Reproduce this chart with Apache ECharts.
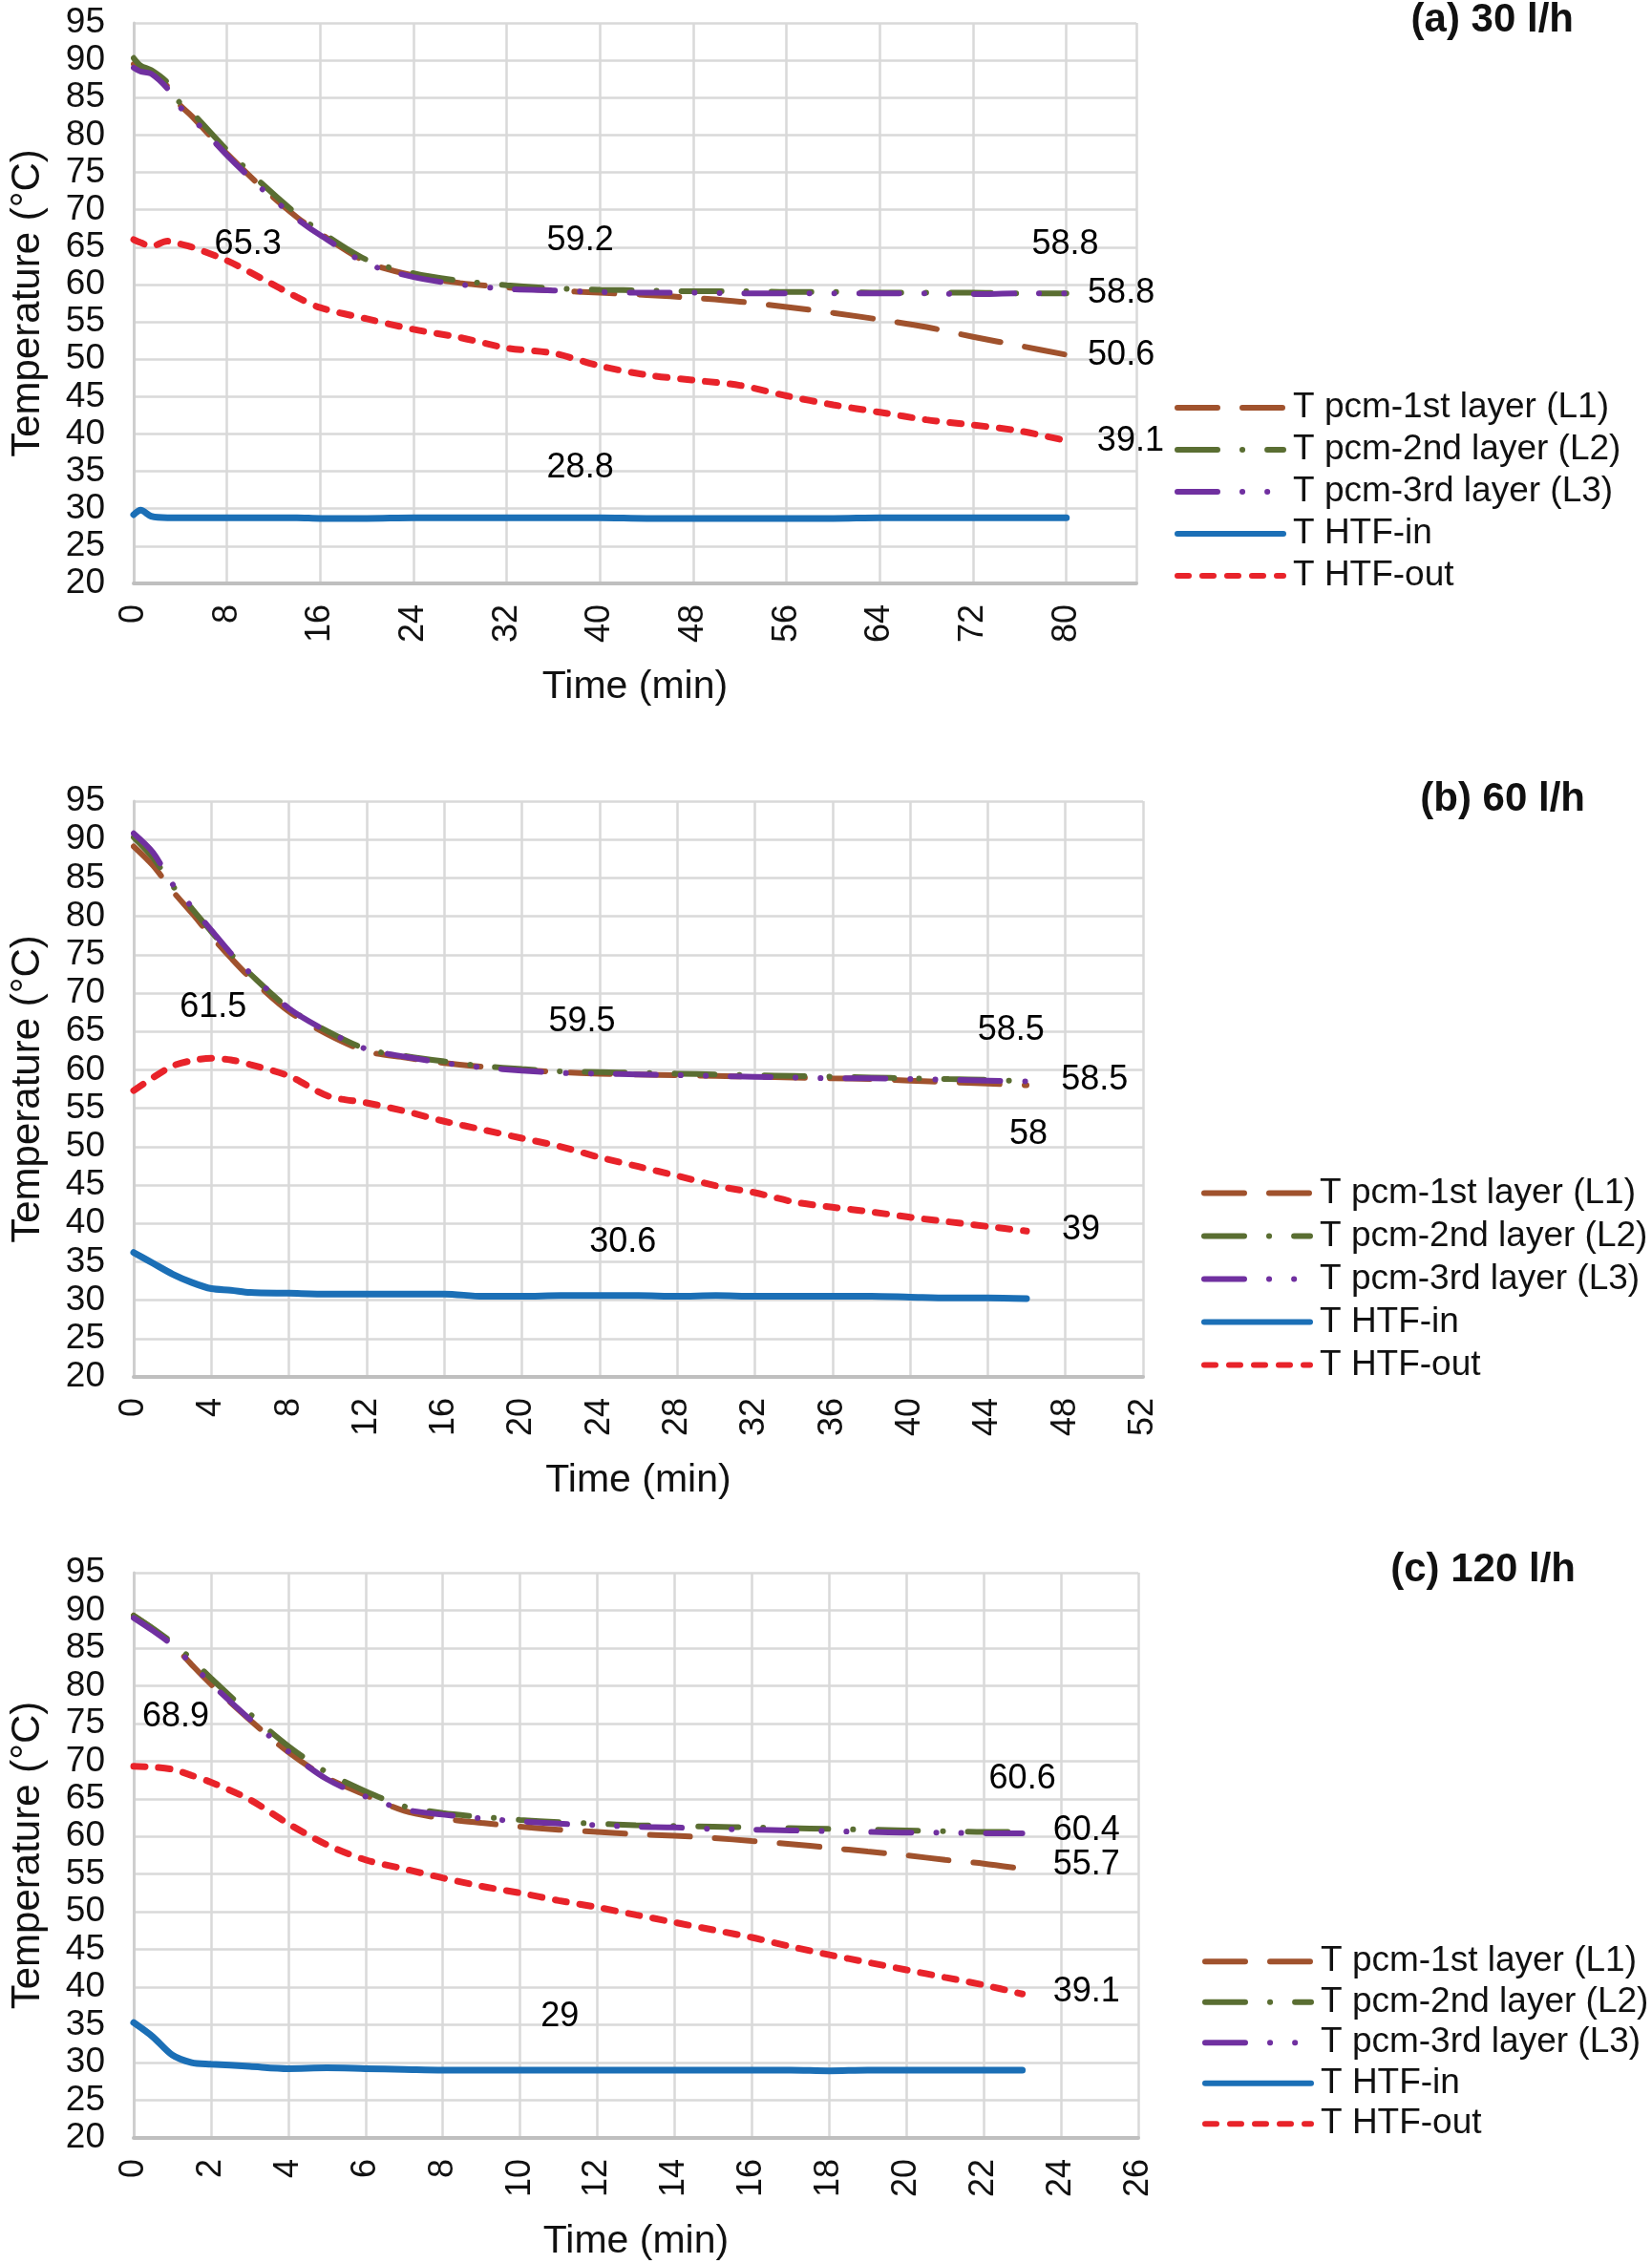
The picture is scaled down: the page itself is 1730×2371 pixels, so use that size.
<!DOCTYPE html>
<html><head><meta charset="utf-8">
<script src="https://cdn.jsdelivr.net/npm/echarts@6/dist/echarts.min.js"></script>
<style>html,body{margin:0;padding:0;background:#fff}#c{width:1730px;height:2371px}</style>
</head><body><div id="c"></div><script>
const seriesNames = ['T pcm-1st layer (L1)','T pcm-2nd layer (L2)','T pcm-3rd layer (L3)','T HTF-in','T HTF-out'];
const panelTitles = ['(a) 30 l/h','(b) 60 l/h','(c) 120 l/h'];
const yTicks = [20,25,30,35,40,45,50,55,60,65,70,75,80,85,90,95];

// Panel (a) 30 l/h
const timeA = [0,0.6,1.5,2.9,3.8,5,8,11,14,16,20,24,28,32,36,40,44,48,52,56,60,64,68,72,76,80];
const a_L1 = [89.5,89.0,88.5,86.5,84.3,82.5,77.5,73.0,69.0,66.8,63.0,61.2,60.2,59.6,59.2,58.9,58.6,58.2,57.7,57.0,56.2,55.3,54.3,53.0,51.8,50.6];
const a_L2 = [90.3,89.3,88.7,87.0,84.6,83.0,78.0,73.5,69.4,67.1,63.3,61.5,60.5,59.9,59.5,59.3,59.2,59.1,59.1,59.0,59.0,58.9,58.9,58.9,58.8,58.8];
const a_L3 = [89.0,88.5,88.2,86.2,84.0,82.3,77.3,72.8,68.8,66.6,62.8,61.0,60.0,59.4,59.2,59.0,58.9,58.9,58.8,58.8,58.8,58.8,58.8,58.7,58.8,58.8];
const a_in = [29.2,29.8,29.0,28.8,28.8,28.8,28.8,28.8,28.8,28.7,28.7,28.8,28.8,28.8,28.8,28.8,28.7,28.7,28.7,28.7,28.7,28.8,28.8,28.8,28.8,28.8];
const a_out = [66.0,65.6,65.1,65.8,65.5,65.0,63.2,60.8,58.3,56.9,55.4,54.0,52.9,51.5,50.8,49.1,47.9,47.2,46.5,45.1,43.9,42.9,41.9,41.2,40.4,39.1];
const labelsA = [[9.8,65.3,'65.3'],[38.3,65.9,'59.2'],[79.9,65.3,'58.8'],[84.7,58.8,'58.8'],[84.7,50.5,'50.6'],[85.5,39.0,'39.1'],[38.3,35.5,'28.8']];

// Panel (b) 60 l/h
const timeB = [0,1,2,3,4,5,6,8,10,12,14,16,18,20,22,24,26,28,30,32,34,36,38,40,42,44,46];
const b_L1 = [89.1,86.6,83.3,80.4,77.4,74.6,72.0,67.6,64.6,62.4,61.6,60.9,60.4,60.0,59.7,59.5,59.4,59.3,59.2,59.1,59.0,58.9,58.8,58.6,58.4,58.2,58.0];
const b_L2 = [90.3,87.6,84.0,81.0,78.0,75.1,72.5,68.0,65.0,62.7,61.8,61.1,60.5,60.1,59.8,59.7,59.6,59.5,59.4,59.3,59.2,59.1,59.0,58.9,58.8,58.7,58.5];
const b_L3 = [90.8,88.3,84.2,81.2,78.2,75.2,72.6,68.0,65.0,62.7,61.7,60.9,60.3,59.9,59.6,59.5,59.4,59.3,59.2,59.1,59.0,58.9,58.9,58.8,58.7,58.6,58.5];
const b_in = [36.2,34.8,33.4,32.3,31.5,31.3,31.0,30.9,30.8,30.8,30.8,30.8,30.5,30.5,30.6,30.6,30.6,30.5,30.6,30.5,30.5,30.5,30.5,30.4,30.3,30.3,30.2];
const b_out = [57.3,59.0,60.5,61.2,61.5,61.3,60.7,59.2,56.6,55.7,54.6,53.3,52.2,51.1,50.0,48.6,47.4,46.2,44.9,44.0,42.8,42.1,41.5,40.8,40.2,39.6,39.0];
const labelsB = [[4.1,68.1,'61.5'],[23.1,66.2,'59.5'],[45.2,65.1,'58.5'],[49.5,58.7,'58.5'],[46.1,51.6,'58'],[48.8,39.2,'39'],[25.2,37.5,'30.6']];

// Panel (c) 120 l/h
const timeC = [0,0.5,1,1.5,2,3,4,5,6,7,8,9,10,11,12,13,14,15,16,17,18,19,20,21,22,23];
const c_L1 = [89.3,87.5,85.5,82.8,80.2,75.5,71.2,67.8,65.5,63.4,62.4,61.8,61.3,60.9,60.6,60.3,60.1,59.8,59.4,59.0,58.5,58.0,57.5,56.9,56.4,55.7];
const c_L2 = [89.3,87.6,85.7,83.5,81.0,76.3,72.0,68.5,66.0,64.0,63.1,62.6,62.2,61.9,61.7,61.5,61.4,61.3,61.2,61.1,61.0,60.9,60.8,60.7,60.6,60.6];
const c_L3 = [89.0,87.3,85.4,82.9,80.3,75.6,71.3,67.6,65.3,63.6,62.9,62.4,62.0,61.7,61.5,61.3,61.2,61.0,60.9,60.8,60.7,60.6,60.5,60.5,60.4,60.4];
const c_in = [35.3,33.4,31.0,30.0,29.8,29.5,29.2,29.3,29.2,29.1,29.0,29.0,29.0,29.0,29.0,29.0,29.0,29.0,29.0,29.0,28.9,29.0,29.0,29.0,29.0,29.0];
const c_out = [69.3,69.2,68.9,68.1,67.2,64.9,61.7,58.9,56.9,55.7,54.5,53.4,52.5,51.5,50.6,49.6,48.6,47.6,46.6,45.4,44.3,43.3,42.3,41.3,40.3,39.1];
const labelsC = [[1.09,75.85,'68.9'],[23.0,67.6,'60.6'],[24.66,60.8,'60.4'],[24.66,56.2,'55.7'],[24.66,39.4,'39.1'],[11.03,36.1,'29']];

const xMax = [86, 52, 26];
const xStep = [8, 4, 2];

const FONT = "'Liberation Sans', Arial, Helvetica, sans-serif";
const TXT = '#111111';
const styles = [
  {color:'#A0522D', type:[42,26], w:6},
  {color:'#5A6E32', type:[42,26,0.1,26], w:6},
  {color:'#7030A0', type:[42,26,0.1,26,0.1,26], w:6},
  {color:'#1B6FB6', type:'solid', w:7},
  {color:'#E8232A', type:[12,14], w:7}
];
const panels = [
  {t:timeA, v:[a_L1,a_L2,a_L3,a_in,a_out], labels:labelsA},
  {t:timeB, v:[b_L1,b_L2,b_L3,b_in,b_out], labels:labelsB},
  {t:timeC, v:[c_L1,c_L2,c_L3,c_in,c_out], labels:labelsC}
];
const layout = [
  {grid:{left:133, top:24, width:1057, height:587}, title:{right:82, top:0}, legend:{left:1230, top:405, lh:44}},
  {grid:{left:130, top:839, width:1067, height:603}, title:{right:70, top:816}, legend:{left:1258, top:1227, lh:45}},
  {grid:{left:129, top:1647, width:1063, height:592}, title:{right:80, top:1623}, legend:{left:1259, top:2033, lh:42.5}}
];

const grid = [], xAxis = [], yAxis = [], title = [], legend = [], series = [];
layout.forEach((L, i) => {
  grid.push(L.grid);
  title.push({text: panelTitles[i], right: L.title.right, top: L.title.top, padding: 0,
    textStyle: {fontFamily: FONT, fontSize: 42, fontWeight: 'bold', color: TXT}});
  legend.push({data: seriesNames, orient: 'vertical', left: L.legend.left, top: L.legend.top,
    itemWidth: 111, itemHeight: 14, itemGap: 0, padding: 0, selectedMode: false,
    lineStyle: {width: 6, cap: 'round'}, itemStyle: {opacity: 0, borderWidth: 0},
    textStyle: {fontFamily: FONT, fontSize: 37, lineHeight: L.legend.lh, color: TXT, padding: [0,0,0,5]}});
  xAxis.push({type: 'value', gridIndex: i, min: 0, max: xMax[i], interval: xStep[i],
    name: 'Time (min)', nameLocation: 'middle', nameGap: 88,
    nameTextStyle: {fontFamily: FONT, fontSize: 41, color: TXT},
    axisLine: {show: true, lineStyle: {color: '#bfbfbf', width: 4}},
    axisTick: {show: false},
    axisLabel: {rotate: 90, margin: 22, fontFamily: FONT, fontSize: 36, color: TXT,
      showMaxLabel: xMax[i] % xStep[i] === 0,
      formatter: v => (v % xStep[i] === 0 ? String(v) : '')},
    splitLine: {show: true, lineStyle: {color: '#d9d9d9', width: 2.5}}});
  yAxis.push({type: 'value', gridIndex: i, min: yTicks[0], max: yTicks[yTicks.length-1], interval: 5,
    name: 'Temperature (°C)', nameLocation: 'middle', nameGap: 90,
    nameTextStyle: {fontFamily: FONT, fontSize: 42, color: TXT},
    axisLine: {show: true, lineStyle: {color: '#cfcfcf', width: 3}},
    axisTick: {show: false},
    axisLabel: {margin: 30, fontFamily: FONT, fontSize: 37, color: TXT},
    splitLine: {show: true, lineStyle: {color: '#d9d9d9', width: 2.5}}});
  const P = panels[i];
  [3,4,0,1,2].forEach(j => {
    series.push({type: 'line', name: seriesNames[j], xAxisIndex: i, yAxisIndex: i,
      data: P.t.map((t, k) => [t, P.v[j][k]]),
      symbol: 'none', showSymbol: false, smooth: 0.3, animation: false,
      lineStyle: {width: styles[j].w, color: styles[j].color, type: styles[j].type, cap: 'round'},
      itemStyle: {color: styles[j].color}});
  });
  series.push({type: 'scatter', xAxisIndex: i, yAxisIndex: i, data: P.labels,
    symbolSize: 1, itemStyle: {color: '#ffffff', opacity: 1}, clip: false, silent: true, z: 10,
    label: {show: true, position: 'inside', formatter: p => p.data[2], opacity: 1,
      textBorderWidth: 0, fontFamily: FONT, fontSize: 36, color: '#000000'}});
});

const chart = echarts.init(document.getElementById('c'), null, {renderer: 'canvas'});
chart.setOption({backgroundColor: '#ffffff', animation: false, title, legend, grid, xAxis, yAxis, series});
</script></body></html>
